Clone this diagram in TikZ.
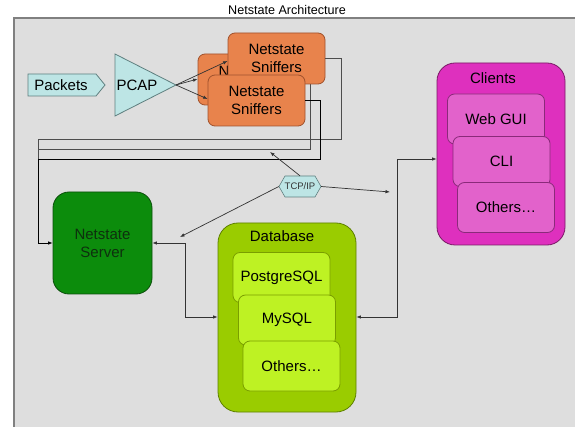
\documentclass[tikz,border=0pt]{standalone}
\usepackage{fontspec}
\setmainfont{Liberation Sans}
\usetikzlibrary{arrows.meta,calc}
\definecolor{framefill}{HTML}{DEDEDE}
\definecolor{frameline}{HTML}{808080}
\definecolor{cyanfill}{HTML}{BDE5E5}
\definecolor{cyanline}{HTML}{5F7F7F}
\definecolor{orfill}{HTML}{E8834C}
\definecolor{orline}{HTML}{A0522D}
\definecolor{grfill}{HTML}{0C8C0C}
\definecolor{grline}{HTML}{0B4F0B}
\definecolor{grtext}{HTML}{0E300E}
\definecolor{dbout}{HTML}{9ACC00}
\definecolor{dboutline}{HTML}{5E8000}
\definecolor{dbin}{HTML}{BEF223}
\definecolor{dbinline}{HTML}{7A9E00}
\definecolor{clout}{HTML}{DE30BE}
\definecolor{cloutline}{HTML}{7A1A66}
\definecolor{clin}{HTML}{E262CB}
\definecolor{clinline}{HTML}{8A2A7A}
\definecolor{wire}{HTML}{333333}
\begin{document}
\begin{tikzpicture}[x=1pt,y=-1pt,
  txt/.style={font=\fontsize{15}{18}\selectfont, align=center, inner sep=0pt},
  box/.style={txt, rounded corners=#1, line width=0.8pt},
  sniff/.style={box=7pt, fill=orfill, draw=orline, minimum width=97pt, minimum height=51pt},
  dbitem/.style={box=7pt, fill=dbin, draw=dbinline, minimum width=97pt, minimum height=50pt},
  clitem/.style={box=7pt, fill=clin, draw=clinline, minimum width=97pt, minimum height=50pt},
  wireline/.style={draw=wire, line width=0.7pt},
  arr/.style={wireline, -{Latex[length=4.5pt,width=3.5pt]}},
  dblarr/.style={wireline, {Latex[length=4.5pt,width=3.5pt]}-{Latex[length=4.5pt,width=3.5pt]}},
  shapeline/.style={fill=cyanfill, draw=cyanline, line width=0.8pt, line join=miter}
]
\useasboundingbox (0,0) rectangle (575,427);
\fill[white] (0,0) rectangle (575,427);
\fill[framefill] (14,18) rectangle (575,427);
\draw[frameline, line width=1.6pt] (14,427) -- (14,18) -- (575,18);
\node[font=\fontsize{12.6}{15}\selectfont, inner sep=0pt] (title) at (287,10) {Netstate Architecture};

% Packets
\draw[shapeline] (28,74) -- (96,74) -- (105,85) -- (96,96) -- (28,96) -- cycle;
\node[txt] (packets) at (61,85) {Packets};

% PCAP
\draw[shapeline] (115,54) -- (176,85) -- (115,116) -- cycle;
\coordinate (pcaptip) at (176,85);
\node[txt] (pcap) at (137,85) {PCAP};

% wires from sniffers (drawn below boxes)
\coordinate (j1) at (38,139);
\coordinate (j2) at (38,149);
\coordinate (j3) at (38,159);
\node[sniff] (sniffA) at (246.5,79.5) {};
\node[txt, anchor=west] (sniffAtext) at (218.5,71) {N};
\draw[wireline, draw=frameline!60!black] (sniffA.east) -- (310,79.5) -- (310,149) -- (j2);
\node[sniff] (sniffB) at (276.5,58.5) {Netstate\\Sniffers};
\draw[wireline, draw=frameline!60!black] (sniffB.east) -- (341,58.5) -- (341,139) -- (j1) -- (j3);
\node[sniff] (sniffC) at (256.5,100.5) {Netstate\\Sniffers};
\draw[wireline, draw=black] (sniffC.east) -- (320,100.5) -- (320,159) -- (j3);

\draw[arr] (pcaptip) -- (sniffB.west |- 0,61);
\draw[arr] (pcaptip) -- (sniffA.west |- 0,79);
\draw[arr] (pcaptip) -- (sniffC.west |- 0,99);

% Server
\node[box=16pt, fill=grfill, draw=grline, minimum width=99pt, minimum height=102pt, text=grtext] (server) at (102.5,243) {Netstate\\Server};
\draw[arr, draw=black] (j3) -- (38,243) -- (server.west);

% TCP/IP
\coordinate (tcpc) at (300,186.5);
\draw[shapeline, line width=0.6pt] ($(tcpc)+(-21,0)$) -- ($(tcpc)+(-15,-10.5)$) -- ($(tcpc)+(15,-10.5)$) -- ($(tcpc)+(21,0)$) -- ($(tcpc)+(15,10.5)$) -- ($(tcpc)+(-15,10.5)$) -- cycle;
\node[inner sep=0pt, minimum width=42pt, minimum height=21pt, font=\fontsize{9.5}{11}\selectfont, text=black!80] (tcp) at (tcpc) {TCP/IP};
\coordinate (tcpup) at (270,152);
\coordinate (tcpright) at (390,192);
\coordinate (tcpleft) at (180,237);
\draw[arr] (tcp.north) -- (tcpup);
\draw[arr] (tcp.east) -- (tcpright);
\draw[arr] (tcp.west) -- (tcpleft);

% Database
\node[box=20pt, fill=dbout, draw=dboutline, minimum width=138pt, minimum height=189pt] (db) at (287,317.5) {};
\node[txt] (dblabel) at (282,236) {Database};
\node[dbitem] (pg) at (281.5,277.5) {PostgreSQL};
\node[dbitem] (my) at (287,320) {MySQL};
\node[dbitem] (dbo) at (291.5,366) {Others\ldots};

% Clients
\node[box=18pt, fill=clout, draw=cloutline, minimum width=128pt, minimum height=182pt] (cl) at (501,154) {};
\node[txt] (cllabel) at (493,78) {Clients};
\node[clitem] (web) at (496,119) {Web GUI};
\node[clitem] (cli) at (501.5,161.5) {CLI};
\node[clitem] (clo) at (506,207.5) {Others\ldots};

% Server <-> Database, Database <-> Clients
\draw[dblarr] (server.east |- 0,243) -- (185,243) -- (185,317) -- (db.west |- 0,317);
\draw[dblarr] (db.east |- 0,317) -- (397,317) -- (397,159) -- (cl.west |- 0,159);
\end{tikzpicture}
\end{document}
